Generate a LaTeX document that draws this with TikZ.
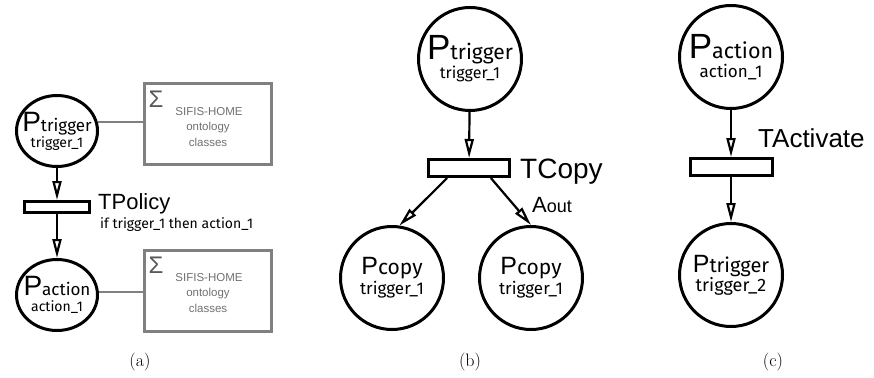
\documentclass[tikz,border=0pt]{standalone}
\usepackage{fontspec}
\newfontfamily\afont{Liberation Sans}
\newfontfamily\ufont{Fira Sans}
\usetikzlibrary{arrows.meta,shapes.geometric,calc}
\newcommand\fsz[2]{\fontsize{#1}{#2}\selectfont}
\definecolor{boxgray}{HTML}{808080}
\definecolor{txtgray}{HTML}{707070}
\definecolor{sigmagray}{HTML}{585858}
\tikzset{
  place/.style={circle, draw, line width=3pt, minimum size=103pt, inner sep=0pt},
  placeA/.style={ellipse, draw, line width=3pt, minimum width=81pt, minimum height=71pt, inner sep=0pt},
  intext/.style={inner sep=0pt, align=center},
  trans/.style={rectangle, draw, line width=3pt, fill=white, inner sep=0pt},
  arc/.style={line width=2.2pt, -{Triangle[open, length=19pt, width=9pt]}},
  onto/.style={rectangle, draw=boxgray, line width=3pt, minimum width=127pt, minimum height=81pt, inner sep=0pt},
  ontotext/.style={inner sep=0pt, text=txtgray, font=\afont\fsz{11.5}{14}},
  sigma/.style={inner sep=0pt, text=sigmagray, font=\afont\fsz{24}{24}},
  tlabel/.style={inner sep=0pt},
  captext/.style={inner sep=0pt, font=\fsz{18}{18}},
  link/.style={draw=boxgray, line width=2pt}
}
\begin{document}
\begin{tikzpicture}[x=1pt,y=-1pt]
\useasboundingbox (0,0) rectangle (874,377);

% ---------- (a) ----------
\node[placeA, label={[intext, font=\fsz{14}{16}]center:{{\afont\fsz{28}{28}P}{\ufont\fsz{17}{17}trigger}\\{\ufont\fsz{14}{14}trigger\_1}}}] (aT) at (57,131) {};
\node[trans, minimum width=65pt, minimum height=11pt] (aTr) at (57,207) {};
\node[placeA, label={[intext, font=\fsz{14}{16}]center:{{\afont\fsz{28}{28}P}{\ufont\fsz{17}{17}action}\\{\ufont\fsz{14}{14}action\_1}}}] (aB) at (57,295) {};
\draw[arc] (aT) -- (aTr);
\draw[arc] (aTr) -- (aB);
\node[tlabel, anchor=base west, font=\afont\fsz{22}{22}] (aTl) at (98,209) {TPolicy};
\node[tlabel, anchor=base west, font=\ufont\fsz{14}{14}] (aTc) at (100,228) {if trigger\_1 then action\_1};

\node[onto] (oA) at (208,124) {};
\node[sigma] (oAs) at (156,99) {Σ};
\node[ontotext, anchor=base] (oA1) at (209,115) {SIFIS-HOME};
\node[ontotext, anchor=base] (oA2) at (208,130) {ontology};
\node[ontotext, anchor=base] (oA3) at (208,146) {classes};
\draw[link] (aT.12) -- (aT.12 -| oA.west);

\node[onto] (oB) at (208,290.5) {};
\node[sigma] (oBs) at (156,265.5) {Σ};
\node[ontotext, anchor=base] (oB1) at (209,281.5) {SIFIS-HOME};
\node[ontotext, anchor=base] (oB2) at (208,296.5) {ontology};
\node[ontotext, anchor=base] (oB3) at (208,312.5) {classes};
\draw[link] (aB.4) -- (aB.4 -| oB.west);

\node[captext] (capa) at (140,362) {(a)};

% ---------- (b) ----------
\node[place, label={[intext, font=\fsz{16}{19}]center:{{\afont\fsz{35}{35}P}{\ufont\fsz{21}{21}trigger}\\{\ufont\fsz{16}{16}trigger\_1}}}] (bT) at (470,59) {};
\node[trans, minimum width=81pt, minimum height=17pt] (bTr) at (469,168) {};
\node[place, label={[intext, font=\fsz{17}{20}]center:{{\afont\fsz{25}{25}P}{\ufont\fsz{21}{21}copy}\\{\ufont\fsz{17}{17}trigger\_1}}}] (bL) at (392,278) {};
\node[place, label={[intext, font=\fsz{17}{20}]center:{{\afont\fsz{25}{25}P}{\ufont\fsz{21}{21}copy}\\{\ufont\fsz{17}{17}trigger\_1}}}] (bR) at (531,278) {};
\draw[arc] (bT) -- (bTr);
\draw[arc] ($(bTr.south west)!0.24!(bTr.south east)$) -- (bL.82);
\draw[arc] ($(bTr.south west)!0.76!(bTr.south east)$) -- (bR.north);
\node[tlabel, anchor=base west, font=\afont\fsz{28}{28}] (bTl) at (520,178) {TCopy};
\node[tlabel, anchor=base west, font=\afont\fsz{22}{22}] (bAo) at (532,212) {A{\fsz{18}{18}out}};
\node[captext] (capb) at (470,362) {(b)};

% ---------- (c) ----------
\node[place, label={[intext, font=\fsz{17}{19}]center:{{\afont\fsz{35}{35}P}{\ufont\fsz{21.5}{21.5}action}\\{\ufont\fsz{17}{17}action\_1}}}] (cT) at (731,57) {};
\node[trans, minimum width=82pt, minimum height=17pt] (cTr) at (731,167) {};
\node[place, label={[intext, font=\fsz{18}{19}]center:{{\afont\fsz{25}{25}P}{\ufont\fsz{20}{20}trigger}\\{\ufont\fsz{18}{18}trigger\_2}}}] (cB) at (731,275) {};
\draw[arc] (cT) -- (cTr);
\draw[arc] (cTr) -- (cB);
\node[tlabel, anchor=base west, font=\afont\fsz{26}{26}] (cTl) at (758,147) {TActivate};
\node[captext] (capc) at (773,362) {(c)};
\end{tikzpicture}
\end{document}
